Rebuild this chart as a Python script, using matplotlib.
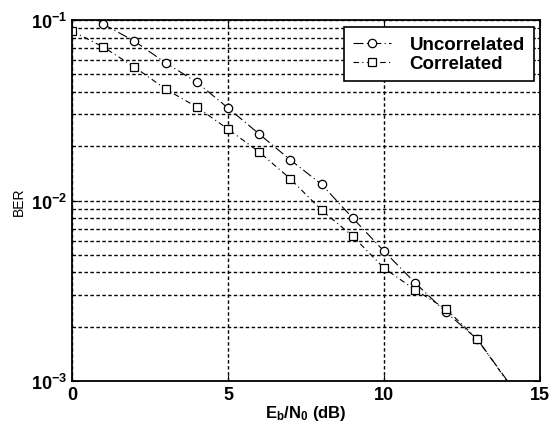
import numpy as np
import matplotlib
matplotlib.use('Agg')
from matplotlib import pyplot as plt
from matplotlib.ticker import LogLocator, NullFormatter, FixedLocator

plt.rcParams['font.family'] = ['Liberation Sans', 'DejaVu Sans']
plt.rcParams['mathtext.fontset'] = 'custom'
plt.rcParams['mathtext.rm'] = 'Liberation Sans'
plt.rcParams['mathtext.bf'] = 'Liberation Sans:bold'
plt.rcParams['mathtext.it'] = 'Liberation Sans:italic'

# data
snr_db = [0, 1, 2, 3, 4, 5, 6, 7, 8, 9, 10, 11, 12, 13, 14]
ber_uncorr = [0.12, 0.095, 0.0765, 0.058, 0.0453, 0.0326, 0.0234, 0.0168,
              0.0123, 0.0080, 0.00525, 0.0035, 0.0024, 0.0017, 0.00098]
ber_corr = [0.087, 0.071, 0.055, 0.0415, 0.033, 0.0249, 0.0186, 0.0132,
            0.00885, 0.00635, 0.00423, 0.0032, 0.0025, 0.0017, 0.00097]

x_ticks = [0, 5, 10, 15]
y_ticks = [1e-3, 1e-2, 1e-1]
y_ticklabels = [r'$\mathbf{10^{-3}}$', r'$\mathbf{10^{-2}}$', r'$\mathbf{10^{-1}}$']

fig = plt.figure(figsize=(5.52, 4.31), dpi=100)
ax = fig.add_axes([0.1304, 0.1137, 0.8476, 0.8373])

ax.plot(snr_db, ber_uncorr, color='black', lw=0.8, ls=(0, (9, 3, 1, 3)),
        marker='o', ms=6, mfc='white', mec='black', mew=0.9,
        markevery=slice(0, 14), label='Uncorrelated')
ax.plot(snr_db, ber_corr, color='black', lw=0.8, ls=(0, (5, 3, 1, 3)),
        marker='s', ms=6, mfc='white', mec='black', mew=0.9,
        markevery=slice(0, 14), label='Correlated')

ax.set_yscale('log')
ax.set_xlim(0, 15)
ax.set_ylim(1e-3, 1e-1)
ax.xaxis.set_major_locator(FixedLocator(x_ticks))
ax.set_yticks(y_ticks)
ax.set_yticklabels(y_ticklabels)
ax.yaxis.set_minor_locator(LogLocator(base=10, subs=np.arange(2, 10)))
ax.yaxis.set_minor_formatter(NullFormatter())
for lbl in ax.get_xticklabels():
    lbl.set_fontweight('bold')
ax.tick_params(which='both', direction='in', top=True, right=True, labelsize=13)
ax.tick_params(which='major', length=4)
ax.tick_params(which='minor', length=2)

ax.grid(True, which='major', color='black', ls=(0, (2.5, 1.8)), lw=1.0)
ax.grid(True, which='minor', axis='y', color='black', ls=(0, (2.5, 1.8)), lw=1.0)

for sp in ax.spines.values():
    sp.set_linewidth(1.3)

ax.set_ylabel('BER', fontsize=10)
ax.set_xlabel(r'$\mathbf{E_b/N_0}$ (dB)', fontsize=12, fontweight='bold', labelpad=0)

leg = ax.legend(loc='upper right', prop={'weight': 'bold', 'size': 13.5},
                frameon=True, fancybox=False, edgecolor='black', framealpha=1,
                handlelength=2.0, handletextpad=1.0, borderpad=0.5,
                labelspacing=0.1, borderaxespad=0,
                bbox_to_anchor=(0.988, 0.982))
leg.get_frame().set_linewidth(1.2)

fig.savefig('out.png', dpi=100)
